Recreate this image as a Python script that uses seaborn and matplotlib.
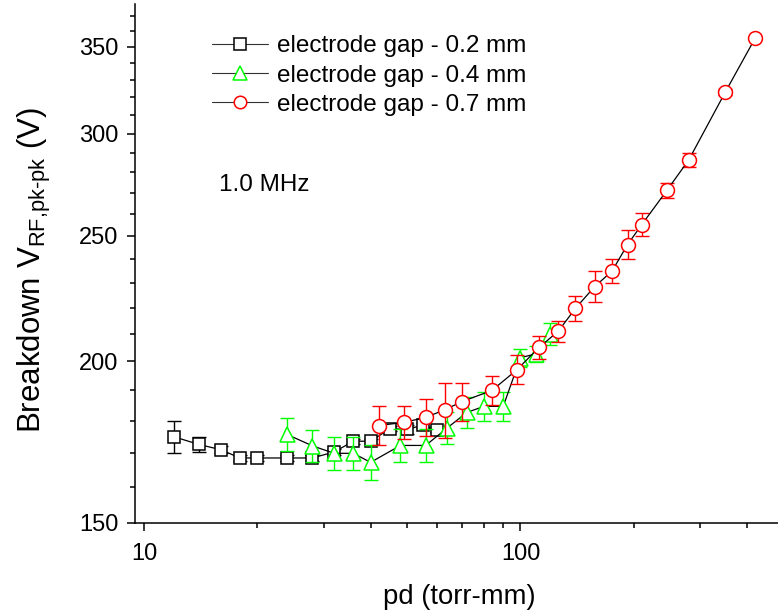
import matplotlib
matplotlib.use("Agg")
import matplotlib.pyplot as plt
import pandas as pd
import seaborn as sns
from matplotlib.ticker import FixedLocator, FixedFormatter, NullFormatter

# Breakdown voltage vs. pd at 1.0 MHz for three electrode gaps
pd_02 = [12, 14, 16, 18, 20, 24, 28, 32, 36, 40, 45, 50, 55, 60]
v_02 = [174.9, 172.5, 170.9, 168.4, 168.4, 168.4, 168.4, 170.2, 173.5, 173.5,
        177.4, 177.2, 178.5, 177.1]
err_02 = [4.9, 2.4, 1.0, 0.8, 0.8, 0.8, 0.8, 0.8, 0.8, 0.8, 0.8, 1.5, 0.8, 0.8]

pd_04 = [24, 28, 32, 36, 40, 48, 56, 64, 72, 80, 90, 100, 110, 120]
v_04 = [175.6, 172.1, 169.8, 169.8, 167.1, 172.2, 172.2, 177.7, 182.6, 184.6,
        184.6, 201.3, 202.7, 210.1]
err_04 = [5.2, 5.0, 4.9, 4.9, 5.1, 5.0, 5.0, 5.0, 5.0, 4.9, 4.9, 3.2, 3.0, 4.2]

pd_07 = [42, 49, 56, 63, 70, 84, 98, 112, 126, 140, 157.5, 175, 192.5, 210,
         245, 280, 350, 420]
v_07 = [178.4, 179.4, 181.0, 183.5, 186.2, 189.9, 197.1, 205.0, 211.0, 219.8,
        228.5, 234.8, 246.2, 255.1, 271.2, 286.3, 323.0, 355.5]
err_07 = [6.2, 5.3, 6.0, 9.0, 6.3, 4.8, 5.0, 4.3, 3.9, 4.8, 6.3, 5.0, 6.4, 5.2,
          3.7, 3.6, 1.5, 0.0]

gap_labels = ["electrode gap - 0.2 mm", "electrode gap - 0.4 mm",
              "electrode gap - 0.7 mm"]
y_ticks = [150, 200, 250, 300, 350]
x_ticks = [10, 100]

frames = []
for lab, xs, ys, es in zip(gap_labels, [pd_02, pd_04, pd_07],
                           [v_02, v_04, v_07], [err_02, err_04, err_07]):
    frames.append(pd.DataFrame({"pd": xs, "V": ys, "err": es, "gap": lab}))
df = pd.concat(frames, ignore_index=True)

sns.set_style("ticks")
plt.rcParams["font.family"] = ["Liberation Sans", "DejaVu Sans"]
plt.rcParams["mathtext.fontset"] = "custom"
plt.rcParams["mathtext.rm"] = "Liberation Sans"
plt.rcParams["text.color"] = "black"
plt.rcParams["axes.labelcolor"] = "black"
plt.rcParams["xtick.color"] = "black"
plt.rcParams["ytick.color"] = "black"

fig = plt.figure(figsize=(7.78, 6.16), dpi=100)
ax = fig.add_axes([0.1735, 0.151, 0.8265, 0.843])

styles = {
    gap_labels[0]: dict(marker="s", ms=8.8, color="#000000"),
    gap_labels[1]: dict(marker="^", ms=10.8, color="#00ff00"),
    gap_labels[2]: dict(marker="o", ms=10.0, color="#ff0000"),
}

for i, lab in enumerate(gap_labels):
    sub = df[df["gap"] == lab]
    st = styles[lab]
    ax.errorbar(sub["pd"], sub["V"], yerr=sub["err"], fmt="none",
                ecolor=st["color"], elinewidth=1.0, capsize=5, capthick=1.0,
                zorder=2 + 2 * i)
    sns.lineplot(data=sub, x="pd", y="V", ax=ax, estimator=None, sort=False,
                 errorbar=None, color="black", linewidth=0.9,
                 marker=st["marker"], markersize=st["ms"],
                 markerfacecolor="white", markeredgecolor=st["color"],
                 markeredgewidth=1.1, label=lab, zorder=3 + 2 * i)

ax.set_xscale("log")
ax.set_yscale("log")
ax.set_xlim(9.47, 483)
ax.set_ylim(150, 378)

ax.xaxis.set_major_locator(FixedLocator(x_ticks))
ax.xaxis.set_major_formatter(FixedFormatter([str(t) for t in x_ticks]))
ax.xaxis.set_minor_locator(FixedLocator([20, 30, 40, 50, 60, 70, 80, 90,
                                         200, 300, 400]))
ax.xaxis.set_minor_formatter(NullFormatter())
ax.yaxis.set_major_locator(FixedLocator(y_ticks))
ax.yaxis.set_major_formatter(FixedFormatter([str(t) for t in y_ticks]))
ax.yaxis.set_minor_locator(FixedLocator([v for v in range(160, 380, 10)
                                         if v not in y_ticks]))
ax.yaxis.set_minor_formatter(NullFormatter())

ax.tick_params(which="major", direction="out", length=6, width=1.1,
               labelsize=17, colors="black")
ax.tick_params(axis="x", which="major", pad=8.5)
ax.tick_params(axis="y", which="major", pad=6.0)
ax.tick_params(which="minor", direction="out", length=3.5, width=1.1)
for side in ["left", "bottom"]:
    ax.spines[side].set_linewidth(1.1)
    ax.spines[side].set_color("black")
sns.despine(ax=ax)

ax.set_xlabel("pd (torr-mm)", fontsize=19.8)
ax.xaxis.set_label_coords(0.505, -0.118)
ylabel = r"Breakdown V$_{\mathregular{RF{,}pk\text{-}pk}}$ (V)"
ax.set_ylabel(ylabel, fontsize=22.5)
ax.yaxis.set_label_coords(-0.128, 0.488)

ax.text(0.130, 0.650, "1.0 MHz", transform=ax.transAxes, fontsize=17.5,
        va="center", ha="left")

leg = ax.legend(loc="upper left", bbox_to_anchor=(0.105, 0.958),
                frameon=False, fontsize=17.5, handlelength=2.3,
                handletextpad=0.35, labelspacing=0.3, borderaxespad=0,
                markerscale=0.9)
for h in leg.legend_handles:
    h.set_color("#333333")
    h.set_linewidth(0.8)

try:
    fig.savefig("out.png", dpi=100)
except Exception:
    ax.set_ylabel(r"Breakdown V$_{\mathregular{RF,pk-pk}}$ (V)", fontsize=22.5)
    ax.yaxis.set_label_coords(-0.128, 0.488)
    fig.savefig("out.png", dpi=100)
